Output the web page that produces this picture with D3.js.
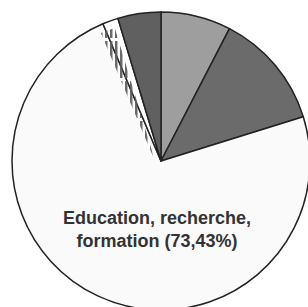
<!DOCTYPE html>
<html>
<head>
<meta charset="utf-8">
<script src="https://cdn.jsdelivr.net/npm/d3@7"></script>
<style>
  html, body { margin: 0; padding: 0; background: #fff; }
  svg { display: block; }
  .label { font: bold 18px "Liberation Sans", Arial, sans-serif; fill: #333; }
</style>
</head>
<body>
<div id="chart"></div>
<script>
// share of each sector (%), clockwise from 12 o'clock
var categories = ["A", "B", "Education, recherche, formation", "C", "D"];
var values = [7.6, 12.6, 73.43, 1.7, 4.67];
var fills = ["#9e9e9e", "#6b6b6b", "#fafafa", "hatch", "#606060"];
var labelLines = ["Education, recherche,", "formation (73,43%)"];

var width = 308, height = 307;
var cx = 161, cy = 161, radius = 149;

var svg = d3.select("#chart").append("svg")
    .attr("width", width)
    .attr("height", height);

// vertical stripes for the hatched slice
var defs = svg.append("defs");
var pat = defs.append("pattern")
    .attr("id", "stripes")
    .attr("patternUnits", "userSpaceOnUse")
    .attr("width", 5)
    .attr("height", 40);
pat.append("rect")
    .attr("x", 0).attr("y", 0)
    .attr("width", 2.5).attr("height", 37)
    .attr("fill", "#5a5a5a")
    .attr("opacity", 0.9);

var pie = d3.pie().sort(null).value(function (d) { return d; });
var arc = d3.arc().innerRadius(0).outerRadius(radius);
var arcs = pie(values);

var g = svg.append("g").attr("transform", "translate(" + cx + "," + cy + ")");

g.selectAll("path.slice")
    .data(arcs)
  .enter().append("path")
    .attr("class", "slice")
    .attr("d", arc)
    .attr("fill", function (d, i) { return fills[i] === "hatch" ? "#ffffff" : fills[i]; })
    .attr("stroke", "#222")
    .attr("stroke-width", 1.5)
    .attr("stroke-linejoin", "round");

// the stripes come out shifted a bit to the left of the slice
g.selectAll("path.hatch")
    .data(arcs.filter(function (d, i) { return fills[i] === "hatch"; }))
  .enter().append("path")
    .attr("class", "hatch")
    .attr("d", d3.arc().innerRadius(0).outerRadius(radius - 10))
    .attr("transform", "translate(-6,0)")
    .attr("fill", "url(#stripes)");

svg.append("text")
    .attr("class", "label")
    .attr("x", 157)
    .attr("y", 224)
    .attr("text-anchor", "middle")
  .selectAll("tspan")
    .data(labelLines)
  .enter().append("tspan")
    .attr("x", 157)
    .attr("dy", function (d, i) { return i === 0 ? 0 : 23; })
    .text(function (d) { return d; });
</script>
</body>
</html>
